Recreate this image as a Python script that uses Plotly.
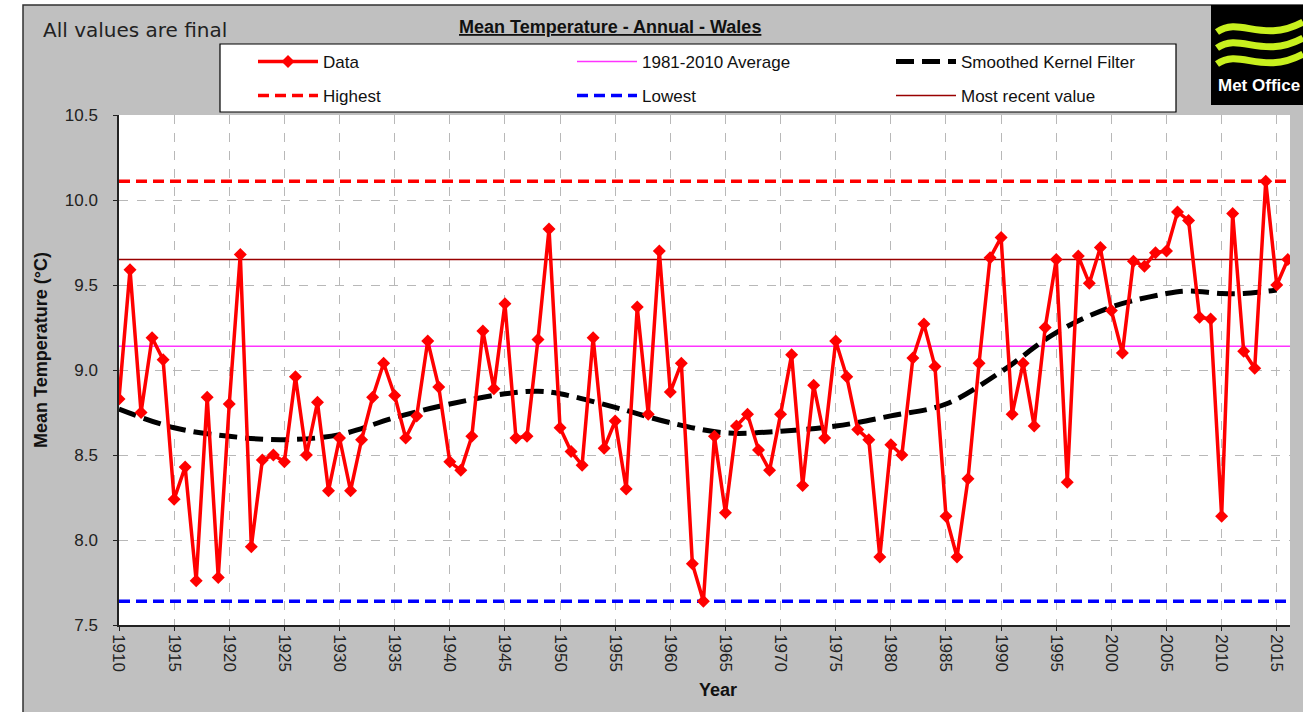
import plotly.graph_objects as go

# annual mean temperature, Wales
years = list(range(1910, 2017))
temps = [
    8.83, 9.59, 8.75, 9.19, 9.06, 8.24, 8.43, 7.76, 8.84, 7.78,   # 1910s
    8.80, 9.68, 7.96, 8.47, 8.50, 8.46, 8.96, 8.50, 8.81, 8.29,   # 1920s
    8.60, 8.29, 8.59, 8.84, 9.04, 8.85, 8.60, 8.73, 9.17, 8.90,   # 1930s
    8.46, 8.41, 8.61, 9.23, 8.89, 9.39, 8.60, 8.61, 9.18, 9.83,   # 1940s
    8.66, 8.52, 8.44, 9.19, 8.54, 8.70, 8.30, 9.37, 8.74, 9.70,   # 1950s
    8.87, 9.04, 7.86, 7.64, 8.61, 8.16, 8.67, 8.74, 8.53, 8.41,   # 1960s
    8.74, 9.09, 8.32, 8.91, 8.60, 9.17, 8.96, 8.65, 8.59, 7.90,   # 1970s
    8.56, 8.50, 9.07, 9.27, 9.02, 8.14, 7.90, 8.36, 9.04, 9.66,   # 1980s
    9.78, 8.74, 9.04, 8.67, 9.25, 9.65, 8.34, 9.67, 9.51, 9.72,   # 1990s
    9.35, 9.10, 9.64, 9.61, 9.69, 9.70, 9.93, 9.88, 9.31, 9.30,   # 2000s
    8.14, 9.92, 9.11, 9.01, 10.11, 9.50, 9.65,                    # 2010s
]

smooth_years = [1910, 1915, 1920, 1925, 1930, 1935, 1940, 1945, 1948, 1950,
                1955, 1960, 1965, 1970, 1975, 1980, 1985, 1990, 1995, 2000,
                2005, 2007, 2010, 2012, 2015]
smooth_vals = [8.77, 8.66, 8.61, 8.59, 8.62, 8.72, 8.80, 8.86, 8.875, 8.86,
               8.78, 8.69, 8.63, 8.64, 8.67, 8.73, 8.80, 8.99, 9.22, 9.37,
               9.45, 9.465, 9.45, 9.45, 9.47]

avg_1981_2010 = 9.14
x_ticks = list(range(1910, 2016, 5))
y_ticks = [7.5, 8.0, 8.5, 9.0, 9.5, 10.0, 10.5]
x_range = [1910, 2016.2]
y_range = [7.5, 10.5]

highest = max(temps)
lowest = min(temps)
most_recent = temps[-1]

# page geometry in pixels, used to place the decorations
W, H = 1303, 712
L, R, T, B = 119, 13, 115, 87
PW, PH = W - L - R, H - T - B

def px(x):
    return (x - L) / PW

def py(y):
    return (H - B - y) / PH

FONT = "Liberation Sans, Arial, sans-serif"

fig = go.Figure()

fig.add_trace(go.Scatter(
    x=x_range, y=[avg_1981_2010] * 2, name="1981-2010 Average", mode="lines",
    line=dict(color="#ff33ff", width=1.5), legend="legend", legendrank=2,
))
fig.add_trace(go.Scatter(
    x=smooth_years, y=smooth_vals, name="Smoothed Kernel Filter", mode="lines",
    line=dict(color="#000000", width=5, dash="18px,8px", shape="spline"),
    legend="legend", legendrank=3,
))
fig.add_trace(go.Scatter(
    x=x_range, y=[highest] * 2, name="Highest", mode="lines",
    line=dict(color="#ff0000", width=3.5, dash="11px,6px"),
    legend="legend2", legendrank=1,
))
fig.add_trace(go.Scatter(
    x=x_range, y=[lowest] * 2, name="Lowest", mode="lines",
    line=dict(color="#0000ff", width=3.5, dash="11px,6px"),
    legend="legend2", legendrank=2,
))
fig.add_trace(go.Scatter(
    x=x_range, y=[most_recent] * 2, name="Most recent value", mode="lines",
    line=dict(color="#990000", width=1.5), legend="legend2", legendrank=3,
))
# data last so it sits on top, but first in the legend
fig.add_trace(go.Scatter(
    x=years, y=temps, name="Data", mode="lines+markers",
    line=dict(color="#ff0000", width=3.5),
    marker=dict(symbol="diamond", size=10, color="#ff0000"),
    legend="legend", legendrank=1,
))

shapes = [
    # grey chart frame
    dict(type="rect", xref="paper", yref="paper", x0=px(23), x1=px(1320),
         y0=py(730), y1=py(5), fillcolor="#c0c0c0",
         line=dict(color="#303030", width=1.5), layer="below"),
    # white plot area
    dict(type="rect", xref="paper", yref="paper", x0=0, x1=1, y0=0, y1=1,
         fillcolor="white", line=dict(width=0), layer="below"),
    # legend box
    dict(type="rect", xref="paper", yref="paper", x0=px(220), x1=px(1176),
         y0=py(112), y1=py(44), fillcolor="white",
         line=dict(color="#000000", width=1.2), layer="below"),
    # Met Office logo block
    dict(type="rect", xref="paper", yref="paper", x0=px(1211), x1=px(1320),
         y0=py(105), y1=py(5), fillcolor="#000000", line=dict(width=0),
         layer="below"),
]
for y0 in [32, 48, 64]:
    path = "M{},{} C{},{} {},{} {},{}".format(
        px(1217), py(y0), px(1240), py(y0 - 16),
        px(1262), py(y0 + 12), px(1303), py(y0 - 10))
    shapes.append(dict(type="path", xref="paper", yref="paper", path=path,
                       line=dict(color="#c8f01e", width=7), layer="above"))

annotations = [
    dict(text="All values are final", x=px(41), y=py(30), xref="paper", yref="paper",
         xanchor="left", yanchor="middle", showarrow=False,
         font=dict(family="DejaVu Sans, sans-serif", size=20, color="#222222")),
    dict(text="<b><u>Mean Temperature - Annual - Wales</u></b>", x=px(610), y=py(27),
         xref="paper", yref="paper", xanchor="center", yanchor="middle", showarrow=False,
         font=dict(family=FONT, size=18, color="#111111")),
    dict(text="<b>Met Office</b>", x=px(1259), y=py(86), xref="paper", yref="paper",
         xanchor="center", yanchor="middle", showarrow=False,
         font=dict(family=FONT, size=17, color="white")),
    # axis titles, placed where the reference has them
    dict(text="<b>Year</b>", x=px(718), y=py(690), xref="paper", yref="paper",
         xanchor="center", yanchor="middle", showarrow=False,
         font=dict(family=FONT, size=18, color="#111111")),
    dict(text="<b>Mean Temperature (°C)</b>", x=px(41), y=py(350), xref="paper",
         yref="paper", xanchor="center", yanchor="middle", showarrow=False, textangle=-90,
         font=dict(family=FONT, size=18, color="#111111")),
]

legend_common = dict(
    orientation="h", xanchor="left", yanchor="middle",
    bgcolor="rgba(0,0,0,0)", borderwidth=0, entrywidth=244, entrywidthmode="pixels",
    itemwidth=60, font=dict(family=FONT, size=17, color="#111111"),
)

fig.update_layout(
    width=W, height=H,
    margin=dict(l=L, r=R, t=T, b=B),
    paper_bgcolor="white",
    plot_bgcolor="white",
    shapes=shapes,
    annotations=annotations,
    showlegend=True,
    legend=dict(x=px(253), y=py(62), **legend_common),
    legend2=dict(x=px(253), y=py(96), **legend_common),
    xaxis=dict(
        range=x_range, tickvals=x_ticks, tickangle=90,
        showgrid=True, gridcolor="#b8b8b8", griddash="dash", gridwidth=1,
        showline=True, linecolor="#222222", linewidth=1.5,
        ticks="outside", ticklen=4, tickcolor="#222222",
        tickfont=dict(family=FONT, size=17, color="#222222"),
        zeroline=False,
    ),
    yaxis=dict(
        range=y_range, tickvals=y_ticks, tickformat=".1f",
        showgrid=True, gridcolor="#b8b8b8", griddash="dash", gridwidth=1,
        showline=True, linecolor="#222222", linewidth=1.5,
        ticks="outside", ticklen=4, tickcolor="#222222", ticklabelstandoff=12,
        tickfont=dict(family=FONT, size=17, color="#222222"),
        zeroline=False,
    ),
)

# drop the page margin so the figure fills the window exactly
fig.write_html("out.html", config={"displayModeBar": False},
               post_script="document.body.style.margin='0';")
